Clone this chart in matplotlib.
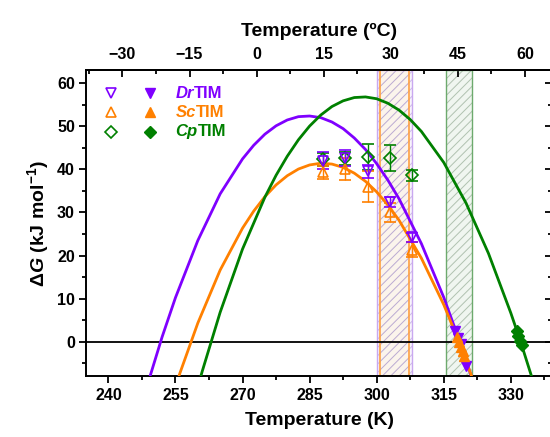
import numpy as np
import matplotlib
matplotlib.use("Agg")
import matplotlib.pyplot as plt

plt.rcParams['font.family'] = ['Liberation Sans', 'DejaVu Sans']
plt.rcParams['font.weight'] = 'bold'
plt.rcParams['mathtext.fontset'] = 'custom'
plt.rcParams['mathtext.rm'] = 'Liberation Sans:bold'
plt.rcParams['mathtext.it'] = 'Liberation Sans:italic:bold'
plt.rcParams['mathtext.bf'] = 'Liberation Sans:bold'
plt.rcParams['hatch.linewidth'] = 0.7

# stability curves (T in K, dG in kJ/mol)
dr_T = [249, 252, 255, 260, 265, 270, 272.5, 275, 277.5, 280, 282.5, 285, 287.5, 290,
        292.5, 295, 297.5, 300, 302.5, 305, 310, 315, 318.6, 321]
dr_G = [-9.04, 1.10, 10.25, 23.49, 34.31, 42.41, 45.57, 48.14, 50.08, 51.43, 52.20, 52.35,
        51.97, 50.96, 49.42, 47.25, 44.59, 41.30, 37.50, 33.16, 22.77, 10.32, 0.0, -7.44]
sc_T = [255, 256, 260, 265, 270, 272.5, 275, 277.5, 280, 282.5, 285, 287.5, 290, 292.5,
        295, 297.5, 300, 302.5, 305, 310, 315, 318.4, 321.5]
sc_G = [-10.42, -7.23, 4.36, 16.65, 26.36, 30.31, 33.66, 36.39, 38.51, 40.06, 41.01, 41.41,
        41.21, 40.44, 39.10, 37.21, 34.76, 31.74, 28.19, 19.40, 8.63, 0.0, -8.68]
cp_T = [260, 261, 265, 270, 275, 277.5, 280, 282.5, 285, 287.5, 290, 292.5, 295, 297.5,
        300, 302.5, 305, 307.5, 310, 315, 320, 325, 330, 332.2, 335]
cp_G = [-10.41, -6.77, 6.87, 21.52, 33.54, 38.61, 43.02, 46.84, 50.02, 52.58, 54.55, 55.87,
        56.63, 56.77, 56.35, 55.31, 53.72, 51.53, 48.77, 41.58, 32.14, 20.51, 6.69, 0.0, -9.18]

# open symbols with error bars
pts_T = [288, 293, 298, 303, 308]
dr_pts = [42.0, 42.6, 39.5, 32.4, 24.2]
dr_err = [2.0, 1.8, 1.5, 1.2, 1.0]
sc_pts = [39.3, 40.1, 36.0, 30.1, 21.4]
sc_err = [1.5, 2.5, 3.5, 2.2, 1.7]
cp_pts = [42.3, 42.6, 42.8, 42.6, 38.6]
cp_err = [1.5, 1.5, 3.0, 3.0, 1.3]

# filled symbols near Tm
dr_fT = [317.6, 318.2, 318.8, 320.0]
dr_fG = [2.6, 1.0, -0.6, -5.5]
sc_fT = [318.0, 318.4, 318.8, 319.2, 319.6]
sc_fG = [1.1, 0.0, -1.1, -2.2, -3.3]
cp_fT = [331.3, 331.7, 332.1, 332.5]
cp_fG = [2.5, 1.4, 0.3, -0.8]

# shaded temperature ranges
dr_band = (300.0, 308.0)
sc_band = (300.7, 307.2)
cp_band = (315.4, 321.4)

purple = '#7F00FF'
orange = '#FF8000'
green = '#008000'

fig = plt.figure(figsize=(5.5, 4.37), dpi=100)
ax = fig.add_axes([0.1564, 0.1396, 0.848, 0.6991])

# bands
ax.axvspan(*dr_band, facecolor='#F8F4FC', edgecolor='#CDBBE8', hatch='////', lw=0, zorder=0)
ax.axvspan(*dr_band, fill=False, edgecolor='#C9A8F0', lw=1.0, zorder=1)
ax.axvspan(*sc_band, facecolor='#FBF4EC', edgecolor='#BBAAD2', hatch='////', lw=0, zorder=0.5)
ax.axvspan(*sc_band, fill=False, edgecolor='#FFA040', lw=1.2, zorder=1)
ax.axvspan(*cp_band, facecolor='#F0F6F0', edgecolor='#B0C2B0', hatch='////', lw=0, zorder=0)
ax.axvspan(*cp_band, fill=False, edgecolor='#6DAA6D', lw=1.0, zorder=1)

ax.axhline(0, color='black', lw=1.3, zorder=2)

ax.plot(dr_T, dr_G, color=purple, lw=2, zorder=3)
ax.plot(sc_T, sc_G, color=orange, lw=2, zorder=3)
ax.plot(cp_T, cp_G, color=green, lw=2, zorder=3)

ax.errorbar(pts_T, cp_pts, yerr=cp_err, fmt='D', ms=6, mfc='none', mec=green, mew=1.2,
            ecolor=green, elinewidth=1, capsize=4, capthick=1, zorder=4)
ax.errorbar(pts_T, sc_pts, yerr=sc_err, fmt='^', ms=7, mfc='none', mec=orange, mew=1.2,
            ecolor=orange, elinewidth=1, capsize=4, capthick=1, zorder=4)
ax.errorbar(pts_T, dr_pts, yerr=dr_err, fmt='v', ms=7, mfc='none', mec=purple, mew=1.2,
            ecolor=purple, elinewidth=1, capsize=4, capthick=1, zorder=4)

ax.plot(dr_fT, dr_fG, 'v', color=purple, ms=7, zorder=5)
ax.plot(sc_fT, sc_fG, '^', color=orange, ms=7, zorder=5)
ax.plot(cp_fT, cp_fG, 'D', color=green, ms=6, zorder=5)

ax.set_xlim(235, 339.3)
ax.set_ylim(-7.9, 62.9)
ax.set_xticks(np.arange(240, 331, 15))
ax.set_xticks(np.arange(247.5, 339, 15), minor=True)
ax.set_yticks(np.arange(0, 61, 10))
ax.set_yticks(np.arange(-5, 62, 10), minor=True)
ax.tick_params(axis='both', which='both', direction='out', labelsize=11.5, width=1.3)
ax.tick_params(axis='x', pad=4)
ax.tick_params(axis='y', pad=3)
ax.tick_params(which='major', length=5)
ax.tick_params(which='minor', length=3)
for s in ax.spines.values():
    s.set_linewidth(1.4)

# right side: inward ticks, no labels
rax = ax.secondary_yaxis('right')
rax.set_yticks(np.arange(0, 61, 10))
rax.set_yticks(np.arange(-5, 62, 10), minor=True)
rax.tick_params(which='both', direction='in', labelright=False, width=1.3)
rax.tick_params(which='major', length=5)
rax.tick_params(which='minor', length=3)

sec = ax.secondary_xaxis('top', functions=(lambda t: t - 273.15, lambda c: c + 273.15))
sec.set_xticks(np.arange(-30, 61, 15))
sec.set_xticks(np.arange(-37.5, 66, 15), minor=True)
sec.tick_params(which='both', direction='in', labelsize=11.5, width=1.3, pad=6)
sec.tick_params(which='major', length=5)
sec.tick_params(which='minor', length=3)
sec.spines['top'].set_linewidth(1.4)
sec.set_xlabel('Temperature (ºC)', fontsize=14, fontweight='bold', labelpad=8)

ax.set_xlabel('Temperature (K)', fontsize=14, fontweight='bold', labelpad=6)
ax.set_ylabel(r'$\Delta\mathit{G}$ (kJ mol$^{-1}$)', fontsize=14, fontweight='bold', labelpad=4)

# legend built by hand
rows = [('v', purple, 'Dr', 0.926, 7), ('^', orange, 'Sc', 0.864, 7), ('D', green, 'Cp', 0.799, 6)]
for m, c, name, yy, ms in rows:
    ax.plot(0.054, yy, m, transform=ax.transAxes, ms=ms, mfc='none', mec=c, mew=1.2, clip_on=False)
    ax.plot(0.138, yy, m, transform=ax.transAxes, ms=ms, color=c, clip_on=False)
    t1 = ax.text(0.192, yy, name, transform=ax.transAxes, color=c, fontsize=12,
                 fontweight='bold', fontstyle='italic', va='center', ha='left')
    ax.annotate('TIM', xy=(1, 0), xycoords=t1, va='bottom', ha='left', color=c,
                fontsize=12, fontweight='bold')

fig.savefig('out.png', dpi=100)
